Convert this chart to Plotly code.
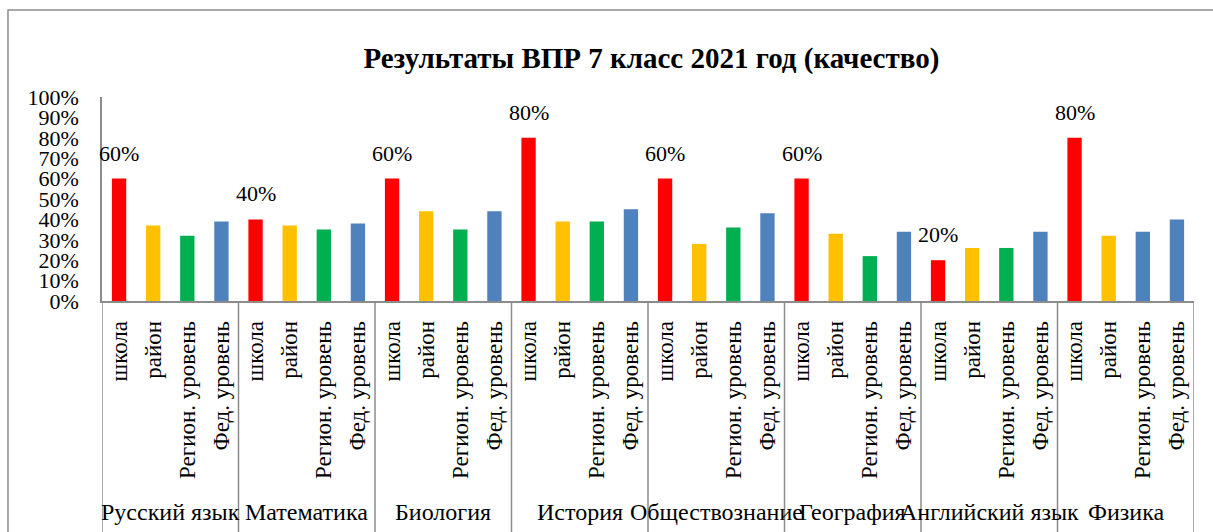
import plotly.graph_objects as go

subjects = ["Русский язык", "Математика", "Биология", "История",
            "Обществознание", "География", "Английский язык", "Физика"]
levels = ["школа", "район", "Регион. уровень", "Фед. уровень"]

school = [0.60, 0.40, 0.60, 0.80, 0.60, 0.60, 0.20, 0.80]
district = [0.37, 0.37, 0.44, 0.39, 0.28, 0.33, 0.26, 0.32]
region = [0.32, 0.35, 0.35, 0.39, 0.36, 0.22, 0.26, 0.34]
federal = [0.39, 0.38, 0.44, 0.45, 0.43, 0.34, 0.34, 0.40]

RED, YELLOW, GREEN, BLUE = "#FF0000", "#FFC000", "#00B050", "#4F81BD"
level_colors = [RED, YELLOW, GREEN, BLUE]

xs, ys, cols, ticks = [], [], [], []
for i, subj in enumerate(subjects):
    vals = [school[i], district[i], region[i], federal[i]]
    for j, v in enumerate(vals):
        xs.append(i * 4 + j)
        ys.append(v)
        c = level_colors[j]
        if subj == "Физика" and j == 2:
            c = BLUE
        cols.append(c)
        ticks.append(levels[j])

FONT = "Liberation Serif"
GREY = "#8c8c8c"

fig = go.Figure()
fig.add_bar(x=xs, y=ys, marker=dict(color=cols, line=dict(width=0)), width=0.42,
            hoverinfo="skip")

# data labels on school bars
for i in range(len(subjects)):
    fig.add_annotation(x=i * 4, y=school[i], xref="x", yref="y",
                       text=f"{round(school[i]*100)}%", showarrow=False,
                       yanchor="bottom", yshift=11,
                       font=dict(family=FONT, size=22, color="#000000"))

# group labels
for i, subj in enumerate(subjects):
    fig.add_annotation(x=i * 4 + 1.5, y=-1.034, xref="x", yref="paper",
                       text=subj, showarrow=False, yanchor="middle",
                       font=dict(family=FONT, size=24, color="#000000"))

# group separators
for i in range(len(subjects) + 1):
    fig.add_shape(type="line", xref="x", yref="paper",
                  x0=i * 4 - 0.5, x1=i * 4 - 0.5, y0=0, y1=-1.3,
                  line=dict(color=GREY, width=1.5))

# chart border
fig.add_shape(type="rect", xref="paper", yref="paper",
              x0=-0.0861, x1=1.05, y0=-1.4, y1=1.426,
              line=dict(color=GREY, width=1.5), layer="below")

fig.update_layout(
    width=1213, height=532,
    margin=dict(l=102, r=19, t=97, b=231),
    paper_bgcolor="white", plot_bgcolor="white",
    showlegend=False,
    title=dict(text="<b>Результаты ВПР 7 класс 2021 год (качество)</b>",
               x=0.537, xref="container", xanchor="center",
               y=1 - 58 / 532, yref="container", yanchor="middle",
               font=dict(family=FONT, size=29, color="#000000")),
    xaxis=dict(range=[-0.5, len(xs) - 0.5], tickvals=xs, ticktext=ticks,
               tickangle=-90, showgrid=False, zeroline=False,
               showline=True, linecolor=GREY, linewidth=1.5, ticks="",
               ticklabelstandoff=9,
               tickfont=dict(family=FONT, size=23, color="#000000")),
    yaxis=dict(range=[0, 1], dtick=0.1, tick0=0, tickformat=".0%",
               showgrid=False, zeroline=False, showline=True,
               linecolor=GREY, linewidth=1.5, ticks="",
               ticklabelstandoff=17,
               tickfont=dict(family=FONT, size=22, color="#000000")),
)

fig.write_html("out.html", config={"displayModeBar": False},
               post_script="document.body.style.margin='0px';")
